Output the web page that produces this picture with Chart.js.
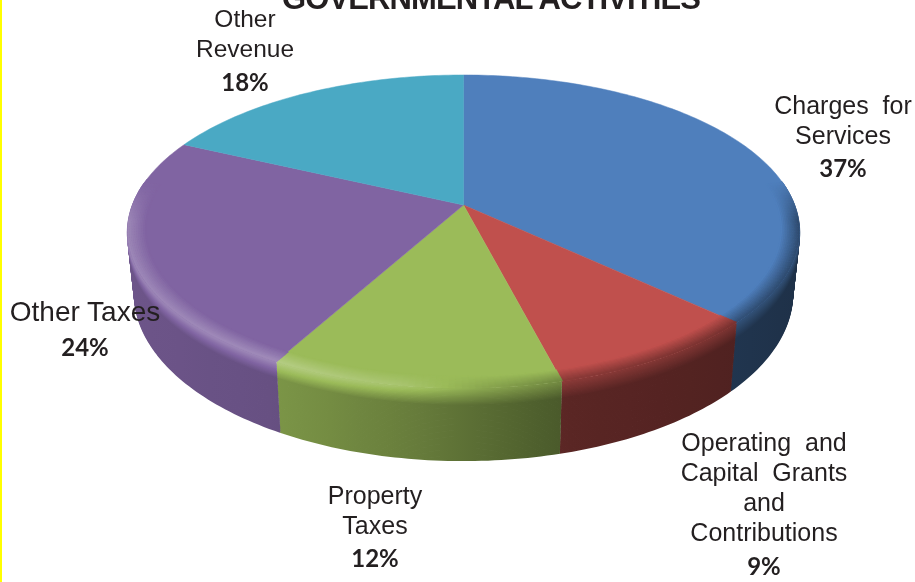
<!DOCTYPE html>
<html><head><meta charset="utf-8">
<script src="https://cdn.jsdelivr.net/npm/chart.js@4"></script>
<style>
html,body{margin:0;padding:0;background:#fff;width:915px;height:582px;overflow:hidden}
#wrap{position:relative;width:915px;height:582px;overflow:hidden}
#edge{position:absolute;left:0;top:0;width:1.5px;height:582px;background:#ffff00}
canvas{position:absolute;left:0;top:0}
.t{position:absolute;transform:translate(-50%,-50%);white-space:pre;color:#231f20;font-family:"Liberation Sans",Arial,sans-serif;font-size:25px;line-height:30px}
.p{font-family:Lato,sans-serif;font-weight:700;font-size:24px}
#title{position:absolute;left:491px;top:-19px;transform:translateX(-50%);white-space:nowrap;color:#231f20;font:bold 31px "Liberation Sans",Arial,sans-serif;letter-spacing:-0.9px}
</style></head><body>
<div id="wrap"><canvas id="c" width="915" height="582"></canvas><div id="edge"></div></div>
<script>
const titleText = "GOVERNMENTAL ACTIVITIES";
const categories = ["Charges for Services","Operating and Capital Grants and Contributions","Property Taxes","Other Taxes","Other Revenue"];
const values = [37,9,12,24,18];
const colors = ["#4f7fbc","#c0504d","#9bbb59","#8064a2","#4aa9c4"];
const labelLines = [["Charges  for","Services"],["Operating  and","Capital  Grants","and","Contributions"],["Property","Taxes"],["Other Taxes"],["Other","Revenue"]];

// label placement, one entry per category
const labelX = [843,764,375,85,245];
const labelY = [105,442,495,312,19];
const pctY = [168,566,558,347,82];
const labelFont = [25,25,25,28,24.5];

// projection of the pie disc
const X0=463.5,Y0=205,R=331,S=152,K=0.169,DEPTH=60,BEVEL=0.05;
const proj=(a,r,d)=>{const u=Math.cos(a)*r,v=Math.sin(a)*r,w=1-K*v;return [X0+R*u/w*(1-0.00035*d),Y0+(S*v+d)/w];};
const lerpT=(pts,x)=>{if(x<=pts[0][0])return pts[0][1];for(let i=1;i<pts.length;i++){if(x<=pts[i][0]){const f=(x-pts[i-1][0])/(pts[i][0]-pts[i-1][0]);return pts[i-1][1]+f*(pts[i][1]-pts[i-1][1]);}}return pts[pts.length-1][1];};
const shadeP=[[127,.85],[275,.80],[420,.66],[568,.47],[733,.42],[800,.38]];
const hlP=[[127,1.2],[275,1.22],[400,1.12],[480,.9],[570,.72],[800,.6]];
const hex=h=>[1,3,5].map(i=>parseInt(h.substr(i,2),16));
const col=(rgb,f)=>{const c=rgb.map(x=>f<=1?x*f:x+(255-x)*(f-1)*1.1);return `rgb(${c.map(x=>Math.round(Math.min(255,x))).join(",")})`;};
function factor(x,z){const s=lerpT(shadeP,x),h=lerpT(hlP,x);
  if(z<=-1)return 1; if(z<=0)return 1+(h-1)*(z+1); if(z>=1)return s; return h+(s-h)*z;}

const pie3d={id:"pie3d",beforeDatasetsDraw(chart){
  const ctx=chart.ctx,arcs=chart.getDatasetMeta(0).data,STEP=Math.PI/180;
  ctx.save();ctx.lineCap="butt";ctx.lineJoin="round";
  const rowGrad=(rgb,z)=>{const g=ctx.createLinearGradient(120,0,810,0);
    for(let s=0;s<=23;s++){const x=120+30*s;g.addColorStop(s/23,col(rgb,factor(x,z)));}return g;};
  arcs.forEach((el,i)=>{const rgb=hex(colors[i]);
    const {startAngle:a0,endAngle:a1}=el;const n=Math.max(2,Math.ceil((a1-a0)/STEP));
    for(let d=DEPTH;d>=1;d-=1){
      ctx.strokeStyle=rowGrad(rgb,d/14);ctx.lineWidth=2;ctx.beginPath();let pen=false;
      for(let k=0;k<=n;k++){const a=a0+(a1-a0)*k/n;
        if(Math.sin(a)<-0.18){pen=false;continue;}
        const p=proj(a,1,d);if(pen)ctx.lineTo(p[0],p[1]);else{ctx.moveTo(p[0],p[1]);pen=true;}}
      ctx.stroke();}
  });
  arcs.forEach((el,i)=>{const {startAngle:a0,endAngle:a1}=el;const n=Math.ceil((a1-a0)/STEP);
    ctx.beginPath();ctx.moveTo(X0,Y0);
    for(let k=0;k<=n;k++){const p=proj(a0+(a1-a0)*k/n,1,0);ctx.lineTo(p[0],p[1]);}
    ctx.closePath();ctx.fillStyle=colors[i];ctx.fill();ctx.strokeStyle=colors[i];ctx.lineWidth=0.5;ctx.stroke();});
  // soft rolled rim between the face and the side
  arcs.forEach((el,i)=>{const rgb=hex(colors[i]);const {startAngle:a0,endAngle:a1}=el;const n=Math.ceil((a1-a0)/STEP);
    for(let j=0;j<=10;j++){const z=-1+j/10,r=1+BEVEL*z-0.002;
      for(let k=0;k<n;k++){const a=a0+(a1-a0)*k/n,b=a0+(a1-a0)*(k+1)/n,m=(a+b)/2;
        const wv=Math.max(0,Math.min(1,(Math.sin(m)+0.15)/0.25));if(wv<=0)continue;
        const p=proj(a,r,0),q=proj(b,r,0);
        ctx.strokeStyle=col(rgb,1+(factor((p[0]+q[0])/2,z)-1)*wv);ctx.lineWidth=2;ctx.lineCap="round";
        ctx.beginPath();ctx.moveTo(p[0],p[1]);ctx.lineTo(q[0],q[1]);ctx.stroke();}}
  });
  ctx.restore();
  return false;
}};

new Chart(document.getElementById("c"),{type:"pie",
  data:{labels:categories,datasets:[{data:values,backgroundColor:colors,borderWidth:0}]},
  options:{responsive:false,animation:false,devicePixelRatio:1,plugins:{legend:{display:false},tooltip:{enabled:false},title:{display:false}}},
  plugins:[pie3d]});

const wrap=document.getElementById("wrap");
const tt=document.createElement("div");tt.id="title";tt.textContent=titleText;wrap.appendChild(tt);
categories.forEach((c,i)=>{
  labelLines[i].forEach((line,j)=>{const e=document.createElement("div");e.className="t";
    e.style.left=labelX[i]+"px";e.style.top=(labelY[i]+j*30)+"px";e.style.fontSize=labelFont[i]+"px";e.textContent=line;wrap.appendChild(e);});
  const p=document.createElement("div");p.className="t p";p.style.left=labelX[i]+"px";p.style.top=pctY[i]+"px";
  p.textContent=values[i]+"%";wrap.appendChild(p);
});
</script></body></html>
